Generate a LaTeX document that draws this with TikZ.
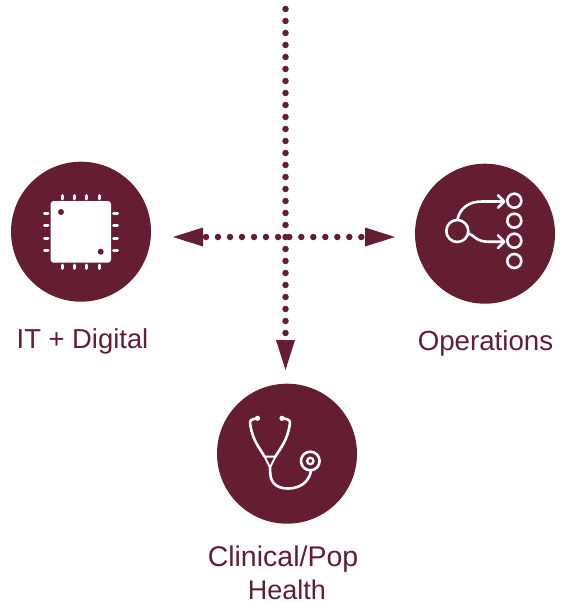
\documentclass[tikz,border=0pt]{standalone}
\usepackage{fontspec}
\setmainfont{Liberation Sans}
\usetikzlibrary{arrows.meta}
\definecolor{wine}{HTML}{651D32}
\tikzset{
  x=1pt,y=-1pt,
  disc/.style={circle,fill=wine,draw=none,minimum size=140pt,inner sep=0pt},
  lbl/.style={text=wine,font=\fontsize{#1}{33}\selectfont,anchor=base,inner sep=0pt},
  dots/.style={wine,line width=6.5pt,line cap=round,dash pattern=on 0pt off 12pt},
  conn/.style={dots,-{Triangle[length=30pt,width=19pt,line width=0pt]}},
  ico/.style={white,line width=2.6pt,line cap=round,line join=round},
  pin/.style={white,line width=3pt,line cap=round},
}
\begin{document}
\begin{tikzpicture}
\useasboundingbox (0,0) rectangle (588,602);
\node[disc] (it) at (81,231.7) {};
\node[disc] (ops) at (485,233.7) {};
\node[disc] (clin) at (287,453.7) {};
\node[lbl=27.4] (itl) at (82.5,348) {IT + Digital};
\node[lbl=27.7] (opl) at (485.5,350) {Operations};
\node[lbl=28.5] (cl1) at (283,566) {Clinical/Pop};
\node[lbl=27] (cl2) at (287,599.5) {Health};
\coordinate (top) at (285.5,9);
\coordinate (downtip) at (285.5,370);
\coordinate (ls) at (278,237);
\coordinate (lt) at (173,237);
\coordinate (rs) at (289.3,237);
\coordinate (rt) at (395,237);
\draw[conn] (top) -- (downtip);
\draw[conn] (ls) -- (lt);
\draw[conn] (rs) -- (rt);
% chip
\fill[white,rounded corners=3pt] (50.7,201) rectangle (111,262.7);
\fill[wine] (61,212) circle (3pt) (100.7,251.7) circle (3pt);
\foreach \p in {62.3,74.7,86.7,99}{
  \draw[pin] (\p,195.5)--(\p,199);
  \draw[pin] (\p,265)--(\p,268.5);
}
\foreach \p in {213.3,225.7,238,250}{
  \draw[pin] (44.5,\p)--(48,\p);
  \draw[pin] (113.7,\p)--(117.5,\p);
}
% flow
\draw[ico] (457.3,231) circle (11pt);
\foreach \p in {200.7,220.7,240.7,261}{\draw[ico] (514.3,\p) circle (7pt);}
\draw[ico] (457.3,220) .. controls (460,207) and (470,201.5) .. (482,201.5) -- (504,201.5);
\draw[ico] (498,195.2) -- (504.3,201.5) -- (498,207.8);
\draw[ico] (468.3,233.3) .. controls (474,235) and (476,241.7) .. (488,241.7) -- (504,241.7);
\draw[ico] (498,235.4) -- (504.3,241.7) -- (498,248);
% stethoscope
\fill[white] (257.5,418.3) circle (2.6pt) (282,418.3) circle (2.6pt);
\draw[ico] (257.5,418.3) -- (254,419) .. controls (250.5,419.5) and (249.5,421.5) .. (250.3,425) .. controls (253,441) and (259,447) .. (264.5,456.5);
\draw[ico] (282,418.3) -- (286,419) .. controls (289.5,419.5) and (290.5,421.5) .. (289.7,425) .. controls (287,441) and (281,447) .. (275.5,456.5);
\draw[white,line width=2pt,line join=round] (264.5,456.5) -- (275.5,456.5) -- (270,467.5) -- cycle;
\draw[ico] (270,467.5) -- (270.3,474) .. controls (271,484) and (278,488.5) .. (288,488.5) .. controls (300,488.5) and (309,482) .. (311,471);
\draw[ico] (310.3,461) circle (9.3pt);
\draw[white,line width=2.3pt] (310.3,461) circle (3.2pt);
\end{tikzpicture}
\end{document}
